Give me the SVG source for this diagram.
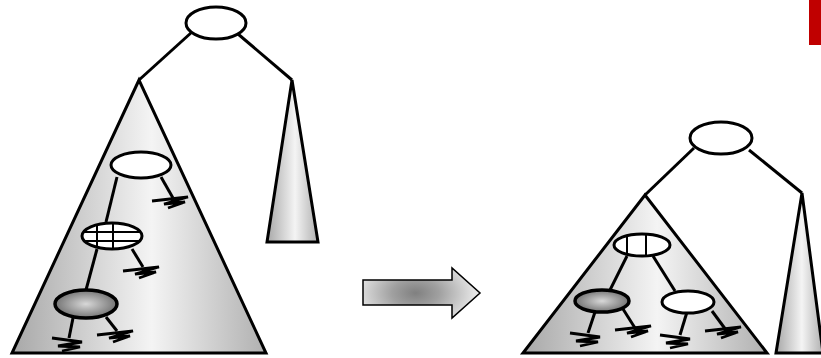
<svg xmlns="http://www.w3.org/2000/svg" xmlns:xlink="http://www.w3.org/1999/xlink" width="821" height="358" viewBox="0 0 821 358">
<style>
.tri{stroke:#000;stroke-width:3;stroke-linejoin:miter}
.ell{fill:#fff;stroke:#000;stroke-width:3}
.ln{stroke:#000;stroke-width:3;fill:none}
.gl{stroke:#000;stroke-width:2;fill:none}
.gnd{stroke:#000;stroke-width:2.8;fill:none;stroke-linejoin:miter}
</style>
<defs>
<linearGradient id="tg" x1="0" y1="0" x2="1" y2="0">
<stop offset="0" stop-color="#a8a8a8"/>
<stop offset="0.55" stop-color="#f4f4f4"/>
<stop offset="1" stop-color="#b0b0b0"/>
</linearGradient>
<radialGradient id="sh" cx="0.5" cy="0.5" r="0.55">
<stop offset="0" stop-color="#d8d8d8"/>
<stop offset="1" stop-color="#6a6a6a"/>
</radialGradient>
<radialGradient id="ag" cx="0.45" cy="0.5" r="0.5" gradientTransform="translate(0.45 0.5) scale(1 1.4) translate(-0.45 -0.5)">
<stop offset="0" stop-color="#808080"/>
<stop offset="0.4" stop-color="#a0a0a0"/>
<stop offset="1" stop-color="#e4e4e4"/>
</radialGradient>
<path id="gr" class="gnd" d="M0,4 L36,0 L12,7 L33,5 L16,11"/>
<path id="gl" class="gnd" d="M0,0 L30,4 L6,8 L28,9 L10,13"/>
</defs>

<rect id="redbar" x="809" y="0" width="12" height="45" fill="#c00000"/>

<g id="connectors">
<line class="ln" x1="192" y1="32" x2="139" y2="80"/>
<line class="ln" x1="238" y1="34" x2="292" y2="80"/>
<line class="ln" x1="694" y1="148" x2="645" y2="195"/>
<line class="ln" x1="749" y1="150" x2="802" y2="193"/>
</g>

<g id="leftSmallTree"><polygon class="tri" fill="url(#tg)" points="292,80 267,242 318,242"/></g>
<g id="rightSmallTree"><polygon class="tri" fill="url(#tg)" points="802,193 776,353 823,353"/></g>

<g id="leftBigTree">
<polygon class="tri" fill="url(#tg)" points="139,80 12,353 266,353"/>
<g id="leftEdges">
<line class="ln" x1="117" y1="177" x2="106" y2="222"/>
<line class="ln" x1="97" y1="249" x2="86" y2="290"/>
<line class="ln" x1="161" y1="177" x2="173" y2="198"/>
<line class="ln" x1="132" y1="249" x2="143" y2="267"/>
<line class="ln" x1="73" y1="318" x2="69" y2="338"/>
<line class="ln" x1="106" y1="317" x2="117" y2="331"/>
</g>
<use xlink:href="#gr" x="152" y="197"/>
<use xlink:href="#gr" x="123" y="267"/>
<use xlink:href="#gl" x="52" y="338"/>
<use xlink:href="#gr" x="97" y="331"/>
<g id="lnode1"><ellipse class="ell" cx="141" cy="165" rx="30" ry="13"/></g>
<g id="lnode2">
<ellipse class="ell" cx="112" cy="236" rx="30" ry="13"/>
<line class="gl" x1="97" y1="224" x2="97" y2="248"/>
<line class="gl" x1="113" y1="223" x2="113" y2="249"/>
<line class="gl" x1="83" y1="232" x2="141" y2="232"/>
<line class="gl" x1="83" y1="241" x2="141" y2="241"/>
</g>
<g id="lnode3"><ellipse cx="86" cy="304" rx="31" ry="14" fill="url(#sh)" stroke="#000" stroke-width="3.5"/></g>
</g>

<g id="rightBigTree">
<polygon class="tri" fill="url(#tg)" points="645,195 523,353 767,353"/>
<g id="rightEdges">
<line class="ln" x1="627" y1="256" x2="610" y2="290"/>
<line class="ln" x1="653" y1="256" x2="675" y2="291"/>
<line class="ln" x1="595" y1="312" x2="588" y2="333"/>
<line class="ln" x1="623" y1="309" x2="635" y2="328"/>
<line class="ln" x1="687" y1="312" x2="680" y2="335"/>
<line class="ln" x1="712" y1="311" x2="726" y2="330"/>
</g>
<use xlink:href="#gl" x="570" y="333"/>
<use xlink:href="#gr" x="615" y="326"/>
<use xlink:href="#gl" x="660" y="335"/>
<use xlink:href="#gr" x="705" y="327"/>
<g id="rnodeA">
<ellipse class="ell" cx="642" cy="245" rx="28" ry="11"/>
<line class="gl" x1="627" y1="235" x2="627" y2="255"/>
<line class="gl" x1="646" y1="234" x2="646" y2="256"/>
</g>
<g id="rnodeB"><ellipse cx="602" cy="301" rx="27" ry="11" fill="url(#sh)" stroke="#000" stroke-width="3.5"/></g>
<g id="rnodeC"><ellipse class="ell" cx="688" cy="302" rx="26" ry="11"/></g>
</g>

<g id="leftRoot"><ellipse class="ell" cx="216" cy="23" rx="30" ry="16"/></g>
<g id="rightRoot"><ellipse class="ell" cx="721" cy="138" rx="31" ry="16"/></g>

<g id="arrow"><polygon points="363,280 452,280 452,268 480,293 452,318 452,305 363,305" fill="url(#ag)" stroke="#000" stroke-width="1.5"/></g>
</svg>
